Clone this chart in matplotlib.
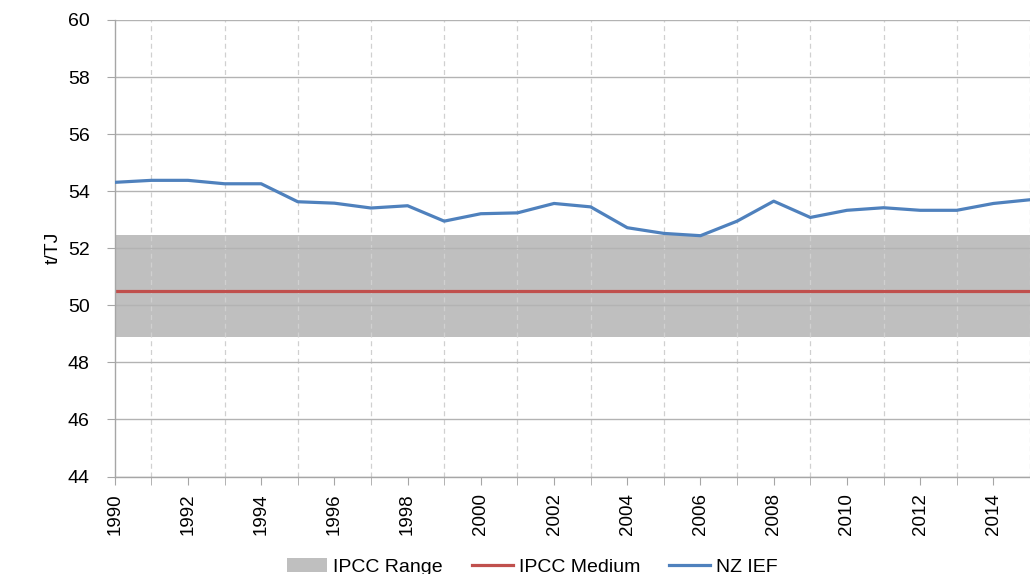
import matplotlib
matplotlib.use("Agg")
import matplotlib.pyplot as plt
from matplotlib.patches import Patch
from matplotlib.lines import Line2D

plt.rcParams['font.family'] = ['Liberation Sans', 'DejaVu Sans']

years = list(range(1990, 2016))
nz_ief = [54.31, 54.38, 54.38, 54.26, 54.26, 53.63, 53.58, 53.41, 53.49, 52.95,
          53.21, 53.24, 53.57, 53.45, 52.72, 52.52, 52.44, 52.95, 53.65, 53.08,
          53.33, 53.42, 53.33, 53.33, 53.57, 53.70]
ipcc_low = 48.9
ipcc_high = 52.46
ipcc_medium = 50.5

fig = plt.figure(figsize=(10.30, 5.74), dpi=100)
ax = fig.add_axes([114.7/1030, 1-476.5/574, (1030-114.7)/1030, (476.5-20)/574])

ax.axhspan(ipcc_low, ipcc_high, color='#bfbfbf', zorder=0.2, lw=0)
ax.axhline(ipcc_medium, color='#c0504d', lw=2.3, zorder=2)
ax.plot(years, nz_ief, color='#4f81bd', lw=2.3, zorder=3)

ax.set_xlim(1990, 2014.82)
ax.set_ylim(44, 60)
ax.set_yticks(range(44, 61, 2))
ax.set_xticks(range(1990, 2015, 2))
ax.set_xticks(range(1990, 2016), minor=True)
ax.tick_params(axis='x', which='both', direction='out', length=6, color='#a6a6a6',
               labelrotation=90, labelsize=13.5, pad=6)
ax.tick_params(axis='y', direction='out', length=6, color='#a6a6a6', labelsize=14, pad=12)
ax.set_axisbelow(True)
ax.grid(axis='y', color='#b3b3b3', lw=1.0)
ax.grid(axis='x', which='minor', color='#d0d0d0', lw=0.9, ls=(0, (4, 3)))
for s in ['top', 'right']:
    ax.spines[s].set_visible(False)
for s in ['left', 'bottom']:
    ax.spines[s].set_color('#a6a6a6')
    ax.spines[s].set_linewidth(1.0)

ax.set_ylabel('t/TJ', fontsize=14, labelpad=4)

handles = [Patch(facecolor='#bfbfbf', edgecolor='none', label='IPCC Range'),
           Line2D([], [], color='#c0504d', lw=2.3, label='IPCC Medium'),
           Line2D([], [], color='#4f81bd', lw=2.3, label='NZ IEF')]
fig.legend(handles=handles, loc='center', bbox_to_anchor=(532/1030, 1-567/574),
           ncol=3, frameon=False, fontsize=14, handlelength=2.1, handleheight=0.7,
           columnspacing=1.5, handletextpad=0.3)

fig.savefig('out.png', dpi=100)
